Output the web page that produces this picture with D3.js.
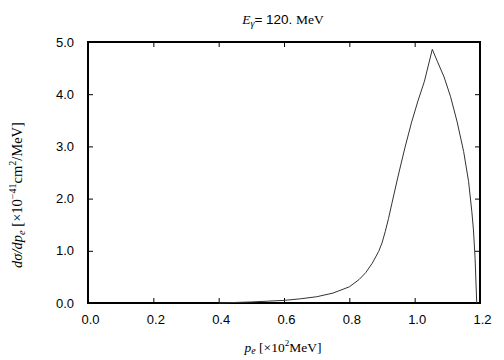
<!DOCTYPE html>
<html>
<head>
<meta charset="utf-8">
<script src="https://cdn.jsdelivr.net/npm/d3@7"></script>
<style>
  body { margin: 0; background: #fff; }
  svg { display: block; }
  .tick text { font-family: "Liberation Sans", Arial, sans-serif; font-size: 13px; fill: #000; }
</style>
</head>
<body>
<div id="chart"></div>
<script>
// momentum p_e [x10^2 MeV] and dsigma/dp_e [x10^-41 cm^2/MeV]
var pe = [0.40, 0.45, 0.50, 0.55, 0.60, 0.65, 0.70, 0.75, 0.80, 0.83, 0.85, 0.87, 0.89,
  0.90, 0.91, 0.92, 0.93, 0.95, 0.97, 0.99, 1.01, 1.03, 1.054, 1.07, 1.09, 1.11, 1.13,
  1.15, 1.165, 1.175, 1.18, 1.185, 1.19];
var dsig = [0.0, 0.01, 0.02, 0.035, 0.05, 0.08, 0.12, 0.19, 0.31, 0.45, 0.58, 0.76, 0.99,
  1.15, 1.37, 1.62, 1.9, 2.45, 2.97, 3.45, 3.87, 4.25, 4.86, 4.62, 4.33, 3.95, 3.47,
  2.9, 2.33, 1.75, 1.4, 0.85, 0.0];
var xTicks = [0, 0.2, 0.4, 0.6, 0.8, 1.0, 1.2];
var yTicks = [0, 1, 2, 3, 4, 5];

var width = 504, height = 360;
var margin = { top: 42, right: 24, bottom: 57, left: 88 };

var x = d3.scaleLinear().domain([0, 1.2]).range([margin.left, width - margin.right]);
var y = d3.scaleLinear().domain([0, 5]).range([height - margin.bottom, margin.top]);

var svg = d3.select("#chart").append("svg")
  .attr("width", width)
  .attr("height", height);

var tickLen = 5;
var fmt = d3.format(".1f");

// bottom + top axes (ticks inward)
svg.append("g")
  .attr("transform", `translate(0,${y(0)})`)
  .call(d3.axisBottom(x).tickValues(xTicks).tickFormat(fmt).tickSizeInner(-tickLen).tickSizeOuter(0).tickPadding(12))
  .call((g) => g.select(".domain").remove())
  .call((g) => g.selectAll(".tick text").attr("dx", 2));
svg.append("g")
  .attr("transform", `translate(0,${y(5)})`)
  .call(d3.axisTop(x).tickValues(xTicks).tickFormat("").tickSizeInner(-tickLen).tickSizeOuter(0))
  .call((g) => g.select(".domain").remove());

// left + right axes
svg.append("g")
  .attr("transform", `translate(${x(0)},0)`)
  .call(d3.axisLeft(y).tickValues(yTicks).tickFormat(fmt).tickSizeInner(-tickLen).tickSizeOuter(0).tickPadding(14))
  .call((g) => g.select(".domain").remove());
svg.append("g")
  .attr("transform", `translate(${x(1.2)},0)`)
  .call(d3.axisRight(y).tickValues(yTicks).tickFormat("").tickSizeInner(-tickLen).tickSizeOuter(0))
  .call((g) => g.select(".domain").remove());

svg.selectAll(".tick line").attr("stroke", "#000").attr("stroke-width", 1);

// frame
svg.append("rect")
  .attr("x", x(0))
  .attr("y", y(5))
  .attr("width", x(1.2) - x(0))
  .attr("height", y(0) - y(5))
  .attr("fill", "none")
  .attr("stroke", "#000")
  .attr("stroke-width", 2);

// curve
var line = d3.line()
  .x((d, i) => x(pe[i]))
  .y((d) => y(d));

svg.append("path")
  .datum(dsig)
  .attr("d", line)
  .attr("fill", "none")
  .attr("stroke", "#333")
  .attr("stroke-width", 1);

// title
var title = svg.append("text")
  .attr("x", 283)
  .attr("y", 24)
  .attr("text-anchor", "middle")
  .attr("font-family", "Liberation Serif, serif")
  .attr("font-size", 13.5);
title.append("tspan").attr("font-style", "italic").text("E");
title.append("tspan").attr("font-style", "italic").attr("font-size", 10).attr("dy", 3).text("γ");
title.append("tspan").attr("dy", -3).attr("font-family", "Liberation Sans, sans-serif").text("= 120. ");
title.append("tspan").text("MeV");

// x label (kept just inside the bottom edge)
var xl = svg.append("text")
  .attr("x", 283)
  .attr("y", 352)
  .attr("text-anchor", "middle")
  .attr("font-family", "Liberation Serif, serif")
  .attr("font-size", 13.5);
xl.append("tspan").attr("font-style", "italic").text("p");
xl.append("tspan").attr("font-style", "italic").attr("font-size", 10).attr("dy", 2).text("e");
xl.append("tspan").attr("dy", -2).text(" [×10");
xl.append("tspan").attr("font-size", 9).attr("dy", -6).text("2");
xl.append("tspan").attr("dy", 6).text("MeV]");

// y label
var yl = svg.append("text")
  .attr("transform", "translate(22,195) rotate(-90)")
  .attr("text-anchor", "middle")
  .attr("font-family", "Liberation Serif, serif")
  .attr("font-size", 14.5);
yl.append("tspan").attr("font-style", "italic").text("dσ/dp");
yl.append("tspan").attr("font-style", "italic").attr("font-size", 10.5).attr("dy", 3).text("e");
yl.append("tspan").attr("dy", -3).text(" [×10");
yl.append("tspan").attr("font-size", 10).attr("dy", -6).text("−41");
yl.append("tspan").attr("dy", 6).text("cm");
yl.append("tspan").attr("font-size", 10).attr("dy", -6).text("2");
yl.append("tspan").attr("dy", 6).text("/MeV]");
</script>
</body>
</html>
